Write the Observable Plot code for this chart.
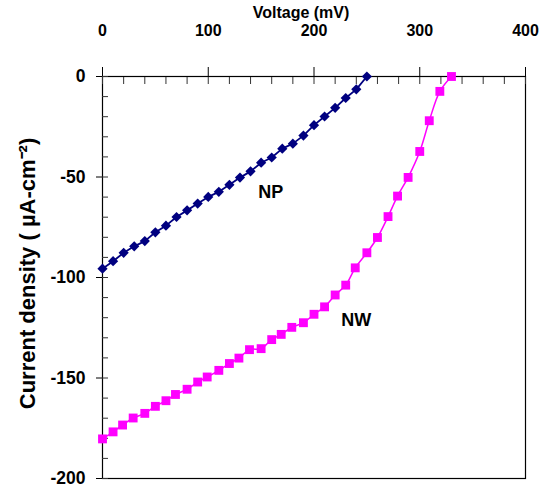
<!DOCTYPE html>
<html>
<head>
<meta charset="utf-8">
<script src="https://cdn.jsdelivr.net/npm/d3@7"></script>
<script src="https://cdn.jsdelivr.net/npm/@observablehq/plot@0.6"></script>
<style>
  html, body { margin: 0; padding: 0; background: #fff; }
  svg { display: block; }
</style>
</head>
<body>
<div id="chart"></div>
<script>
// NP series (diamonds)
const npVoltage = [0,10,20,30,40,50,60,70,80,90,100,110,120,130,140,150,160,170,180,190,200,210,220,230,240,250];
const npCurrent = [-95.6,-91.9,-87.7,-84.5,-81.9,-77.5,-74.2,-69.9,-66.6,-63.2,-59.9,-57.4,-53.9,-50.3,-47.2,-42.9,-40.3,-35.9,-33.4,-29.4,-24.2,-19.9,-15.6,-10.7,-6.4,0];
// NW series (squares)
const nwVoltage = [0,10,19,29,40,50,60,69,80,90,99,110,120,129,139,150,160,169,179,190,200,210,220,230,239,250,260,270,279,289,300,309,319,330];
const nwCurrent = [-180.3,-176.8,-173.4,-169.9,-167.6,-164.1,-161.3,-158.2,-155.6,-152.0,-149.5,-146.2,-142.8,-140.1,-135.9,-135.4,-130.9,-128.3,-124.8,-122.5,-118.3,-114.6,-108.7,-103.8,-95.2,-87.7,-80.1,-69.7,-59.5,-50.2,-37.3,-22.0,-7.4,0];
// Series labels
const seriesNames = ["NP", "NW"];
const labelVoltage = [159, 240];
const labelCurrent = [-57.5, -121.4];
// Ticks
const xMajorTicks = [0, 100, 200, 300, 400];
const xMinorTicks = d3.range(0, 401, 20);
const yMajorTicks = [0, -50, -100, -150, -200];
const yMinorTicks = d3.range(-200, 1, 10);
const xTitle = "Voltage (mV)";
const yTitle = "Current density ( µA-cm⁻²)";

const np = npVoltage.map((v, i) => ({v, c: npCurrent[i]}));
const nw = nwVoltage.map((v, i) => ({v, c: nwCurrent[i]}));
const labels = seriesNames.map((n, i) => ({n, v: labelVoltage[i], c: labelCurrent[i]}));

const font = "'Liberation Sans', Arial, sans-serif";
const fmt = d => String(d);

const chart = Plot.plot({
  width: 545,
  height: 490,
  marginLeft: 102,
  marginRight: 20,
  marginTop: 76,
  marginBottom: 12,
  style: {fontFamily: font, background: "#fff", color: "#000"},
  x: {domain: [0, 400]},
  y: {domain: [-200, 0]},
  marks: [
    Plot.frame({stroke: "#000", strokeWidth: 1.2}),
    Plot.axisX({anchor: "top", ticks: xMinorTicks, tickSize: -7, tickFormat: () => "", label: null, stroke: "#333"}),
    Plot.axisX({anchor: "top", ticks: xMajorTicks, tickSize: 10, tickPadding: 31, tickFormat: fmt, label: null,
      fontSize: 16, fontWeight: "bold", stroke: "#000"}),
    Plot.axisY({anchor: "left", ticks: yMinorTicks, tickSize: -6, tickFormat: () => "", label: null, stroke: "#333"}),
    Plot.axisY({anchor: "left", ticks: yMajorTicks, tickSize: 6, tickPadding: 11, tickFormat: fmt, label: null,
      fontSize: 17.5, fontWeight: "bold", stroke: "#000"}),
    Plot.text([xTitle], {frameAnchor: "top", lineAnchor: "middle", textAnchor: "middle", dy: -64, dx: -13, fontSize: 16, fontWeight: "bold", fill: "#000"}),
    Plot.text([yTitle], {frameAnchor: "left", lineAnchor: "middle", textAnchor: "middle", dx: -75, dy: -4, rotate: -90, fontSize: 22, fontWeight: "bold", fill: "#000"}),
    Plot.line(nw, {x: "v", y: "c", stroke: "#ff00ff", strokeWidth: 1.5, curve: "catmull-rom"}),
    Plot.dot(nw, {x: "v", y: "c", symbol: "square", r: 5, fill: "#ff00ff", stroke: "none"}),
    Plot.line(np, {x: "v", y: "c", stroke: "#000080", strokeWidth: 1.8}),
    Plot.dot(np, {x: "v", y: "c", symbol: "diamond2", r: 4.6, fill: "#000080", stroke: "none"}),
    Plot.text(labels, {x: "v", y: "c", text: "n", fontSize: 18, fontWeight: "bold", fill: "#000"})
  ]
});
document.getElementById("chart").appendChild(chart);
</script>
</body>
</html>
